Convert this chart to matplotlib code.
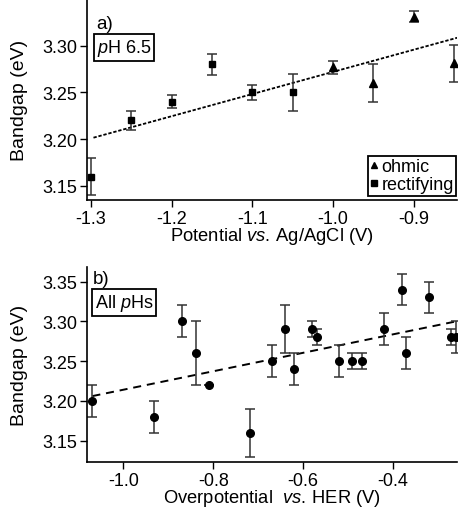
import numpy as np
import matplotlib
matplotlib.use('Agg')
import matplotlib.pyplot as plt
from matplotlib.lines import Line2D

plt.rcParams['font.family'] = ['Liberation Sans', 'DejaVu Sans']
plt.rcParams['mathtext.fontset'] = 'custom'
plt.rcParams['mathtext.rm'] = 'Liberation Sans'
plt.rcParams['mathtext.it'] = 'Liberation Sans:italic'
plt.rcParams['lines.scale_dashes'] = False

# panel a: pH 6.5, potential vs Ag/AgCl
rect_x = [-1.30, -1.25, -1.20, -1.15, -1.10, -1.05]
rect_y = [3.160, 3.220, 3.240, 3.280, 3.250, 3.250]
rect_err = [0.020, 0.010, 0.007, 0.011, 0.008, 0.020]
ohm_x = [-1.00, -0.95, -0.90, -0.85]
ohm_y = [3.277, 3.260, 3.331, 3.281]
ohm_err = [0.007, 0.020, 0.006, 0.020]
fit_a = (0.237, 3.509)          # slope, intercept
fit_a_x = [-1.297, -0.846]

# panel b: all pHs, overpotential vs HER
all_x = [-1.069, -0.931, -0.870, -0.839, -0.809, -0.719, -0.670, -0.641, -0.621, -0.580,
         -0.570, -0.520, -0.490, -0.469, -0.420, -0.380, -0.370, -0.320, -0.270, -0.260]
all_y = [3.20, 3.18, 3.30, 3.26, 3.22, 3.16, 3.25, 3.29, 3.24, 3.29,
         3.28, 3.25, 3.25, 3.25, 3.29, 3.34, 3.26, 3.33, 3.28, 3.28]
all_err = [0.02, 0.02, 0.02, 0.04, 0.0, 0.03, 0.02, 0.03, 0.02, 0.01,
           0.01, 0.02, 0.01, 0.01, 0.02, 0.02, 0.02, 0.02, 0.01, 0.02]
fit_b = (0.116, 3.330)
fit_b_x = [-1.069, -0.260]

fig = plt.figure(figsize=(4.58, 5.10), dpi=100)
ax1 = fig.add_axes([0.190, 0.606, 0.808, 0.394])
ax2 = fig.add_axes([0.190, 0.092, 0.808, 0.382])

ebar = dict(ls='none', ecolor='#333333', elinewidth=1.1, capsize=3.5, capthick=1.1,
            color='black')

fx = np.array(fit_a_x)
ax1.plot(fx, fit_a[0] * fx + fit_a[1], color='black', lw=1.3, ls=(0, (2.4, 1.3)))
ax1.errorbar(ohm_x, ohm_y, yerr=ohm_err, marker='^', ms=5.5, **ebar)
ax1.errorbar(rect_x, rect_y, yerr=rect_err, marker='s', ms=5.0, **ebar)

fx = np.array(fit_b_x)
ax2.plot(fx, fit_b[0] * fx + fit_b[1], color='black', lw=1.4, ls=(0, (5.8, 4.2)))
ax2.errorbar(all_x, all_y, yerr=all_err, marker='o', ms=5.5, **ebar)

ax1.set_xlim(-1.305, -0.846)
ax1.set_ylim(3.135, 3.350)
ax1.set_xticks([-1.3, -1.2, -1.1, -1.0, -0.9])
ax1.set_yticks([3.15, 3.20, 3.25, 3.30])
ax1.set_xticklabels(['-1.3', '-1.2', '-1.1', '-1.0', '-0.9'])
ax1.set_yticklabels(['3.15', '3.20', '3.25', '3.30'])
ax1.set_xlabel(r'$\mathrm{Potential}\ \it{vs.}\,\mathrm{Ag/AgCl\ (V)}$', fontsize=13.2, labelpad=-1)

ax2.set_xlim(-1.081, -0.257)
ax2.set_ylim(3.123, 3.368)
ax2.set_xticks([-1.0, -0.8, -0.6, -0.4])
ax2.set_yticks([3.15, 3.20, 3.25, 3.30, 3.35])
ax2.set_xticklabels(['-1.0', '-0.8', '-0.6', '-0.4'])
ax2.set_yticklabels(['3.15', '3.20', '3.25', '3.30', '3.35'])
ax2.set_xlabel(r'$\mathrm{Overpotential}\ \ \it{vs.}\,\mathrm{HER\ (V)}$', fontsize=13.2, labelpad=-1)

for ax in (ax1, ax2):
    ax.spines['top'].set_visible(False)
    ax.spines['right'].set_visible(False)
    ax.spines['left'].set_linewidth(1.2)
    ax.spines['bottom'].set_linewidth(1.2)
    ax.tick_params(direction='out', length=5, width=1.0, labelsize=13, pad=2)
    ax.set_ylabel('Bandgap (eV)', fontsize=14)
    ax.yaxis.set_label_coords(-0.16, 0.5)

box = dict(boxstyle='square,pad=0.15', fc='white', ec='black', lw=1.3)
ax1.text(0.024, 0.876, 'a)', transform=ax1.transAxes, fontsize=13.5, va='center')
ax1.text(0.027, 0.759, r'$\it{p}$H 6.5', transform=ax1.transAxes, fontsize=13,
         va='center', bbox=box)
ax2.text(0.016, 0.944, 'b)', transform=ax2.transAxes, fontsize=13.5, va='center')
ax2.text(0.022, 0.82, r'All $\it{p}$Hs', transform=ax2.transAxes, fontsize=13,
         va='center', bbox=box)

handles = [Line2D([], [], ls='none', marker='^', ms=4.5, color='black'),
           Line2D([], [], ls='none', marker='s', ms=4.5, color='black')]
leg = ax1.legend(handles, ['ohmic', 'rectifying'], loc='lower right',
                 bbox_to_anchor=(0.998, 0.02), borderaxespad=0,
                 fontsize=13, handlelength=0.45, handletextpad=0.15,
                 borderpad=0.15, labelspacing=0.05, fancybox=False, framealpha=1)
leg.get_frame().set_edgecolor('black')
leg.get_frame().set_linewidth(1.3)

fig.savefig('out.png', dpi=100)
